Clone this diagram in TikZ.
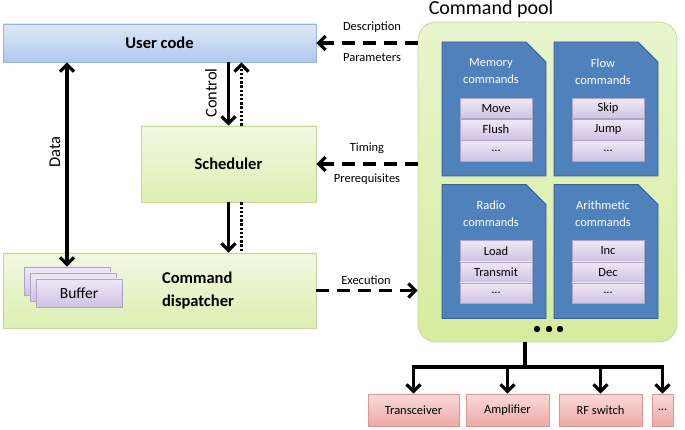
\documentclass[tikz,border=0pt]{standalone}
\usepackage{fontspec}
\setmainfont{Carlito}
\usetikzlibrary{arrows.meta,positioning}

\definecolor{ucTop}{HTML}{DFE8F7}
\definecolor{ucBot}{HTML}{AFC8EC}
\definecolor{ucLine}{HTML}{95B3DD}
\definecolor{grTop}{HTML}{F1F8E0}
\definecolor{grBot}{HTML}{DCEFB2}
\definecolor{grLine}{HTML}{C3D89B}
\definecolor{poolTop}{HTML}{EAF5CF}
\definecolor{poolBot}{HTML}{D5EC9E}
\definecolor{fdFill}{HTML}{4F81BD}
\definecolor{fdLine}{HTML}{38608F}
\definecolor{itTop}{HTML}{EDE8F5}
\definecolor{itBot}{HTML}{CFC3E2}
\definecolor{itLine}{HTML}{B1A2C9}
\definecolor{rdTop}{HTML}{F9DADA}
\definecolor{rdBot}{HTML}{EDA9A8}
\definecolor{rdLine}{HTML}{D99694}

\tikzset{
	block/.style={draw=grLine, line width=0.8pt, top color=grTop, bottom color=grBot,
		align=center, inner sep=0pt, font=\bfseries\fontsize{16.5}{19}\selectfont},
	userblock/.style={block, draw=ucLine, top color=ucTop, bottom color=ucBot},
	item/.style={draw=itLine, line width=0.6pt, top color=itTop, bottom color=itBot,
		minimum width=72, minimum height=20.5, inner sep=0pt, font=\fontsize{12.5}{14}\selectfont},
	bufbox/.style={item, minimum width=86, minimum height=28, font=\fontsize{15.5}{18}\selectfont},
	device/.style={draw=rdLine, line width=0.6pt, top color=rdTop, bottom color=rdBot,
		minimum height=32, inner sep=0pt, font=\fontsize{12.5}{14}\selectfont},
	tiny/.style={font=\fontsize{12.5}{15}\selectfont},
	big/.style={font=\fontsize{16.5}{19}\selectfont},
	folder/.style={fill=fdFill, draw=fdLine, line width=0.8pt},
	tip/.style={-{Straight Barb[length=7pt,width=14pt,line width=3.2pt]}},
	flow/.style={line width=3.2pt, tip},
	biflow/.style={line width=3.2pt, {Straight Barb[length=7pt,width=14pt,line width=3.2pt]}-{Straight Barb[length=7pt,width=14pt,line width=3.2pt]}},
	flowline/.style={line width=3.2pt},
	dotflow/.style={line width=3pt, dash pattern=on 2.4pt off 1.8pt},
	dashflow/.style={line width=3.6pt, dash pattern=on 13pt off 8pt, tip}
}

% command group: name, centre x, centre y, title, first item, second item
\newcommand{\cmdgroup}[6]{
	\draw[folder] ({#2-52},{#3-67}) -- ({#2+32},{#3-67}) -- ({#2+52},{#3-47}) -- ({#2+52},{#3+67}) -- ({#2-52},{#3+67}) -- cycle;
	\node[white, align=center, font=\fontsize{12.5}{17}\selectfont] (#1-title) at ({#2-3},{#3-37.5}) {#4\\commands};
	\node[item] (#1-a) at ({#2+2},{#3-0.5}) {#5};
	\node[item, below=0pt of #1-a] (#1-b) {#6};
	\node[item, below=0pt of #1-b] (#1-c) {...};
}

\begin{document}
\begin{tikzpicture}[x=1pt,y=1pt,yscale=-1]
	\useasboundingbox (0,0) rectangle (685,430);

	% Left column
	\node[userblock, minimum width=313, minimum height=38] (usercode) at (159.5,43) {User code};
	\node[block, minimum width=175, minimum height=76] (scheduler) at (228.5,164) {Scheduler};
	\node[block, minimum width=313, minimum height=75] (dispatcher) at (159.5,290.5) {};
	\node[font=\bfseries\fontsize{16.5}{23}\selectfont, align=left] (dispatchlabel) at (198,291) {Command\\dispatcher};

	% Buffers
	\node[bufbox] (bufa) at (67,281) {};
	\node[bufbox] (bufb) at (73,287) {};
	\node[bufbox] (bufc) at (79,293) {Buffer};

	% Command pool
	\node[draw=grLine, line width=0.8pt, top color=poolTop, bottom color=poolBot, rounded corners=18,
		minimum width=259, minimum height=320] (pool) at (547.5,182) {};
	\node[font=\fontsize{20}{24}\selectfont] (pooltitle) at (491,9) {Command pool};

	\cmdgroup{memory}{494}{109}{Memory}{Move}{Flush}
	\cmdgroup{flowcmd}{606}{109}{Flow}{Skip}{Jump}
	\cmdgroup{radio}{494}{251.5}{Radio}{Load}{Transmit}
	\cmdgroup{arith}{606}{251.5}{Arithmetic}{Inc}{Dec}

	\foreach \dx in {-12,0,11}
		\fill ({549+\dx},329) circle (3.2);

	% Devices
	\node[device, minimum width=91] (transceiver) at (413.5,410) {Transceiver};
	\node[device, minimum width=83] (amplifier) at (507.5,410) {Amplifier};
	\node[device, minimum width=83] (rfswitch) at (600.5,410) {RF switch};
	\node[device, minimum width=21] (more) at (662.5,410) {...};

	% Data and control
	\draw[biflow] (bufa.north |- usercode.south) -- (bufa.north);
	\node[big, rotate=90] (datalabel) at (55,152) {Data};
	\draw[flow] (usercode.south -| scheduler.north) -- (scheduler.north);
	\node[big, rotate=90] (controllabel) at (211,93) {Control};
	\draw[dotflow, tip] ([xshift=13pt]scheduler.north) -- ([xshift=13pt]scheduler.north |- usercode.south);
	\draw[flow] (scheduler.south) -- (scheduler.south |- dispatcher.north);
	\draw[dotflow] ([xshift=13pt]scheduler.south) -- ([xshift=13pt]scheduler.south |- dispatcher.north);

	% Pool links
	\draw[dashflow] (pool.west |- usercode.east) -- (usercode.east);
	\node[tiny] (desclabel) at (372,27) {Description};
	\node[tiny] (paramlabel) at (372,58) {Parameters};
	\draw[dashflow] (pool.west |- scheduler.east) -- (scheduler.east);
	\node[tiny] (timinglabel) at (367,148) {Timing};
	\node[tiny] (prereqlabel) at (367,179) {Prerequisites};
	\draw[dashflow] (dispatcher.east) -- (pool.west |- dispatcher.east);
	\node[tiny] (execlabel) at (366,280) {Execution};

	% Fan out to devices
	\coordinate (fork) at (525,367);
	\draw[flowline] (pool.south -| fork) -- (fork);
	\foreach \dev in {transceiver,amplifier,rfswitch,more}
		\draw[flow] (fork) -| (\dev.north);

\end{tikzpicture}
\end{document}
